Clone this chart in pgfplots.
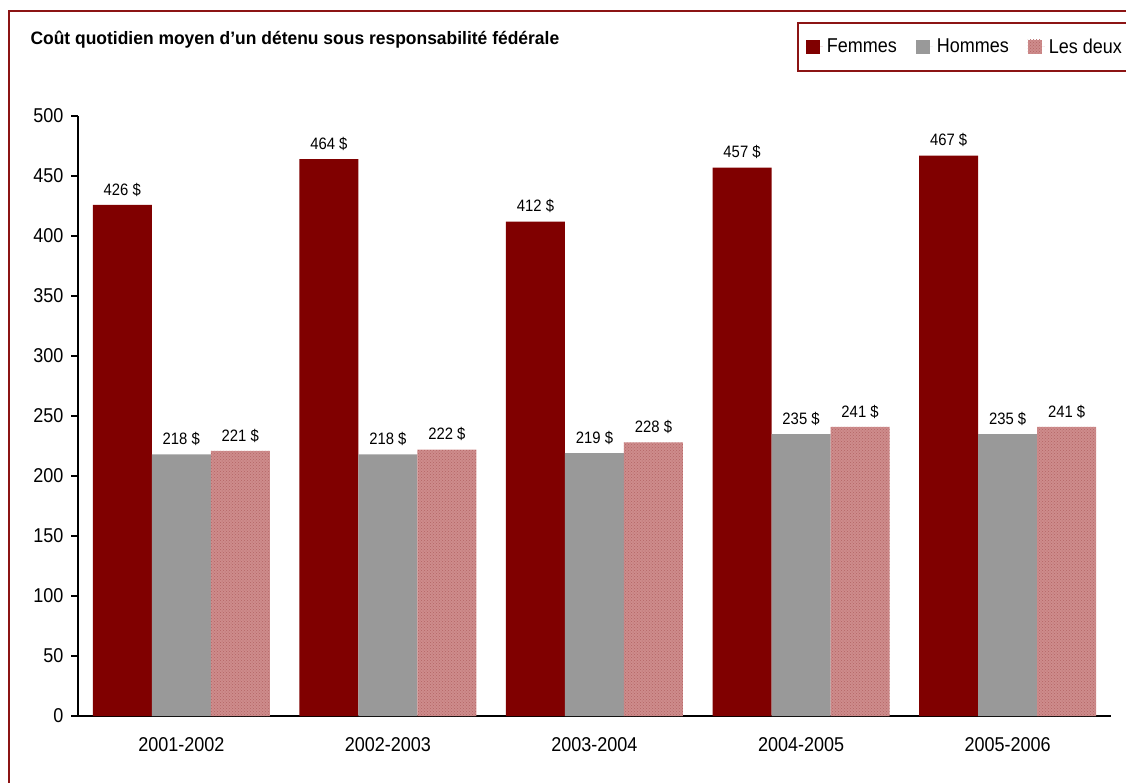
\documentclass[border=0pt]{standalone}
\usepackage{fontspec}
\setmainfont{Liberation Sans}[FakeStretch=0.9]
\newfontfamily\titlefont{Liberation Sans}[FakeStretch=0.97]
\usepackage{pgfplots}
\pgfplotsset{compat=1.18}
\usetikzlibrary{patterns}

\definecolor{femmes}{RGB}{128,0,0}
\definecolor{hommes}{RGB}{153,153,153}
\definecolor{deux}{RGB}{206,140,140}
\definecolor{deuxhatch}{RGB}{180,100,100}
\definecolor{cadre}{RGB}{140,20,20}

\begin{document}
\begin{tikzpicture}
\useasboundingbox (0pt,0pt) rectangle (1126pt,782pt);
\clip (0pt,0pt) rectangle (1126pt,782pt);
% cadre (bords gauche et haut seulement visibles)
\draw[cadre, line width=2.2pt] (9pt,-5pt) -- (9pt,771pt) -- (1135pt,771pt);
\node[anchor=west, font=\titlefont\bfseries\fontsize{18}{20}\selectfont] at (27pt,742pt)
  {Coût quotidien moyen d’un détenu sous responsabilité fédérale};

\begin{axis}[
    at={(78pt,66pt)}, anchor=south west,
    scale only axis,
    width=1033pt, height=600pt,
    ybar=0pt,
    bar width=59pt,
    xmin=-0.5, xmax=4.5,
    ymin=0, ymax=500,
    axis x line*=bottom,
    axis y line*=left,
    axis line style={line width=1.6pt, black},
    xtick={0,1,2,3,4},
    xticklabels={2001-2002,2002-2003,2003-2004,2004-2005,2005-2006},
    x tick style={draw=none},
    extra x ticks={-0.5,0.5,1.5,2.5,3.5,4.5},
    extra x tick labels={},
    extra x tick style={major tick length=8pt, tick style={draw=black, line width=1.6pt}, tick align=outside},
    ytick={0,50,...,500},
    y tick style={line width=1.6pt, black},
    tick align=outside,
    major tick length=7pt,
    xticklabel style={font=\fontsize{20}{22}\selectfont, yshift=-11pt},
    yticklabel style={font=\fontsize{20}{22}\selectfont, xshift=-4pt},
    /pgf/number format/assume math mode=true,
    nodes near coords={\pgfmathprintnumber{\pgfplotspointmeta}~\$},
    every node near coord/.append style={font=\fontsize{16.5}{18}\selectfont, yshift=5pt},
    legend columns=3,
    legend style={
        at={(0.696,1.157)}, anchor=north west,
        draw=cadre, line width=1.8pt,
        font=\fontsize{20}{22}\selectfont,
        inner xsep=8pt, inner ysep=14pt,
        /tikz/every even column/.append style={column sep=17pt},
        /tikz/every odd column/.append style={column sep=2pt},
    },
    legend image code/.code={
        \draw[#1, draw=none] (0pt,-7pt) rectangle (14pt,7pt);
        \path (0pt,0pt) -- (17pt,0pt);
    },
]
\addplot[fill=femmes, draw=none] coordinates {(0,426) (1,464) (2,412) (3,457) (4,467)};
\addplot[fill=hommes, draw=none] coordinates {(0,218) (1,218) (2,219) (3,235) (4,235)};
\addplot[fill=deux, draw=none, postaction={pattern=crosshatch dots, pattern color=deuxhatch}]
  coordinates {(0,221) (1,222) (2,228) (3,241) (4,241)};
\legend{Femmes, Hommes, Les deux\hspace*{20pt}}
\end{axis}
\end{tikzpicture}
\end{document}
